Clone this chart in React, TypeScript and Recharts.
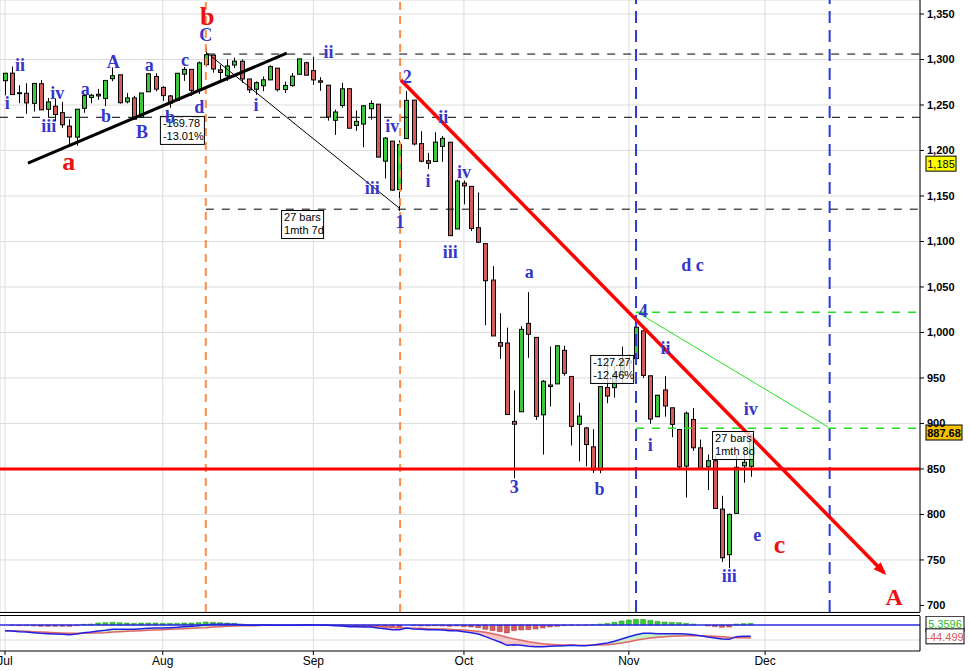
import React from "react";
import {
  ComposedChart,
  Bar,
  Line,
  Area,
  XAxis,
  YAxis,
  CartesianGrid,
  ReferenceLine,
  ReferenceDot,
  Cell,
} from "recharts";

// daily bars 1 Jul – 26 Nov 2008, index 0 = 1 Jul
const opens = [
  1276.7, 1285.0, 1263.5, 1262.9, 1251.8, 1273.4, 1245.3, 1248.7, 1241.6, 1226.8, 1214.7, 1246.3, 1258.2, 1261.8, 1257.1, 1278.9, 1283.2, 1253.5, 1257.8, 1236.4, 1264.5, 1281.4,
  1269.4, 1260.0, 1254.9, 1283.9, 1289.2, 1266.3, 1294.4, 1304.8, 1288.6, 1282.1, 1293.9, 1298.1, 1278.6, 1267.3, 1271.1, 1277.6, 1290.5, 1267.0, 1271.3, 1283.8, 1296.5,
  1287.8, 1276.6, 1271.8, 1233.2, 1249.5, 1267.9, 1227.5, 1229.0, 1245.9, 1250.9, 1188.3, 1210.3, 1157.1, 1213.1, 1255.4, 1207.6, 1188.8, 1187.9, 1204.5, 1209.1, 1113.8,
  1164.2, 1160.6, 1115.2, 1097.6, 1057.6, 988.9, 988.4, 902.3, 912.8, 1010.0, 994.6, 909.5, 942.3, 943.5, 980.4, 951.7, 899.1, 895.1, 874.3, 848.9, 939.5, 939.4, 953.1,
  968.7, 971.3, 1001.8, 952.4, 907.4, 936.8, 917.2, 893.4, 853.1, 904.4, 873.2, 852.3, 859.0, 805.9, 755.8, 801.2, 853.4, 852.9,
];
const highs = [
  1285.3, 1292.2, 1271.7, 1273.9, 1274.2, 1277.4, 1257.7, 1257.3, 1253.5, 1234.4, 1245.5, 1262.3, 1262.2, 1267.7, 1277.4, 1291.2, 1283.2, 1263.2, 1260.1, 1263.2, 1284.9, 1284.9,
  1270.5, 1261.0, 1284.9, 1291.7, 1289.2, 1297.9, 1313.2, 1304.8, 1294.0, 1300.1, 1302.1, 1300.2, 1278.6, 1276.0, 1281.4, 1293.6, 1290.5, 1275.7, 1285.1, 1300.7, 1297.6,
  1303.0, 1280.6, 1271.8, 1244.9, 1274.4, 1268.7, 1243.9, 1249.9, 1255.1, 1250.9, 1214.8, 1210.3, 1211.1, 1265.3, 1255.4, 1221.2, 1197.4, 1220.0, 1215.8, 1209.1, 1168.0,
  1167.0, 1160.6, 1153.8, 1097.6, 1072.9, 1021.1, 1005.3, 936.4, 1006.9, 1044.3, 994.6, 947.7, 984.6, 985.4, 985.4, 951.7, 922.8, 896.3, 893.8, 940.5, 970.0, 963.2, 984.4,
  975.5, 1007.5, 1001.8, 952.4, 931.5, 952.0, 917.2, 893.4, 913.0, 916.9, 882.3, 865.9, 864.6, 820.5, 801.2, 865.6, 868.9, 887.7,
];
const lows = [
  1260.7, 1261.5, 1252.0, 1240.3, 1242.8, 1244.6, 1236.8, 1232.0, 1225.0, 1205.0, 1205.3, 1241.5, 1251.8, 1255.7, 1248.8, 1276.1, 1251.5, 1251.8, 1234.4, 1236.4, 1264.5, 1265.0,
  1254.5, 1247.0, 1254.7, 1276.5, 1260.0, 1262.1, 1292.2, 1285.6, 1274.9, 1276.6, 1290.7, 1274.5, 1263.1, 1261.2, 1265.2, 1277.6, 1264.9, 1263.2, 1270.0, 1283.8, 1282.7,
  1272.2, 1265.6, 1232.8, 1217.2, 1247.1, 1224.5, 1221.6, 1203.6, 1233.8, 1192.7, 1169.3, 1155.9, 1133.5, 1213.1, 1205.6, 1187.1, 1179.8, 1187.9, 1187.5, 1106.4, 1113.8,
  1140.8, 1111.4, 1098.1, 1007.9, 996.2, 971.0, 909.2, 839.8, 912.8, 972.1, 904.0, 865.8, 918.7, 943.5, 952.5, 875.8, 858.4, 852.9, 845.6, 845.3, 922.3, 928.5, 944.6,
  958.6, 971.3, 949.9, 899.7, 906.9, 907.5, 884.9, 850.5, 818.7, 869.9, 849.0, 826.8, 806.2, 747.8, 741.0, 801.2, 835.0, 841.4,
];
const closes = [
  1284.9, 1261.5, 1262.9, 1252.3, 1273.7, 1244.7, 1253.4, 1239.5, 1228.3, 1214.9, 1245.4, 1260.3, 1260.7, 1260.0, 1277.0, 1282.2, 1252.5, 1257.8, 1234.4, 1263.2, 1284.3, 1267.4,
  1260.3, 1252.0, 1284.9, 1289.2, 1266.1, 1296.3, 1305.3, 1289.6, 1285.8, 1292.9, 1298.2, 1278.6, 1266.7, 1274.5, 1277.7, 1292.2, 1266.8, 1271.5, 1281.7, 1300.7, 1282.8,
  1277.6, 1275.0, 1236.8, 1242.3, 1267.8, 1224.5, 1232.0, 1249.1, 1251.7, 1192.7, 1213.6, 1156.4, 1206.5, 1255.1, 1207.1, 1188.2, 1185.9, 1209.2, 1213.3, 1106.4, 1166.4,
  1161.1, 1114.3, 1099.2, 1056.9, 996.2, 984.9, 909.9, 899.2, 1003.4, 998.0, 907.8, 946.4, 940.6, 985.4, 955.1, 896.8, 908.1, 876.8, 848.9, 940.5, 930.1, 954.1, 968.8,
  966.3, 1005.8, 952.8, 904.9, 931.0, 919.2, 899.0, 852.3, 911.3, 873.3, 850.8, 859.1, 806.6, 752.4, 800.0, 851.8, 857.4, 887.7,
];

// MACD panel
const macdLine = [
  -17, -18, -20, -21, -23, -25, -26, -27, -28, -29, -27,
  -23, -21, -18, -16, -13, -13, -13, -13, -11, -10,
  -9, -9, -8, -7, -5, -4, -2, 1, 2, 2,
  2, 2, 1, -1, -1, 0, 0, -1, -1, -1,
  0, 1, 0, 0, -1, -2, -3, -5, -5, -6,
  -6, -9, -11, -14, -14, -9, -12, -13, -14, -14,
  -15, -17, -17, -20, -23, -27, -35, -43, -51, -61,
  -59, -61, -64, -65, -65, -64, -63, -62, -61, -62,
  -62, -60, -57, -54, -49, -42, -35, -29, -25, -25,
  -26, -26, -26, -26, -27, -29, -32, -36, -39, -42,
  -43, -35, -34, -34,
];
const signalLine = [
  -17, -17, -18, -19, -20, -21, -22, -23, -24, -25, -25,
  -25, -24, -24, -23, -21, -20, -19, -18, -17, -16,
  -15, -14, -13, -12, -11, -10, -9, -8, -6, -5,
  -4, -3, -2, -2, -2, -1, -1, -1, -1, -1,
  -1, 0, 0, 0, 0, -1, -1, -2, -2, -3,
  -3, -4, -5, -7, -8, -9, -10, -10, -11, -12,
  -12, -13, -14, -15, -17, -19, -22, -26, -31, -37,
  -42, -46, -50, -53, -56, -58, -59, -60, -60, -61,
  -61, -61, -60, -59, -57, -54, -50, -46, -42, -39,
  -37, -35, -34, -33, -32, -32, -32, -33, -34, -35,
  -37, -38, -38, -39,
];
const histogram = [
  0, -1, -2, -2, -3, -4, -4, -4, -4, -4, -2,
  2, 3, 6, 7, 8, 7, 6, 5, 6, 6,
  6, 5, 5, 5, 6, 6, 7, 9, 8, 7,
  6, 5, 3, 1, 1, 1, 1, 0, 0, 0,
  1, 1, 0, 0, -1, -1, -2, -3, -3, -3,
  -3, -5, -6, -7, -6, 0, -2, -3, -3, -2,
  -3, -4, -3, -5, -6, -8, -13, -17, -20, -24,
  -17, -15, -14, -12, -9, -6, -4, -2, -1, -1,
  -1, 1, 3, 5, 8, 12, 15, 17, 17, 14,
  11, 9, 8, 7, 5, 3, 0, -3, -5, -7,
  -6, 3, 4, 5,
];

const monthStarts = [0, 22, 43, 64, 87, 106];
const monthNames = ["Jul", "Aug", "Sep", "Oct", "Nov", "Dec"];
const priceTicks = [700, 750, 800, 850, 900, 950, 1000, 1050, 1100, 1150, 1200, 1250, 1300, 1350];

const X_DOMAIN: [number, number] = [-0.7, 127.6];
const Y_DOMAIN: [number, number] = [692.8, 1365.4];

const GREEN = "#3cc83c";
const RED = "#d65c5c";
const WAVE_BLUE = "#3535cc";
const WAVE_RED = "#ee1111";
const SANS = "'Liberation Sans', Arial, sans-serif";
const SERIF = "'Liberation Serif', 'Times New Roman', serif";

// wave count labels, placed at (bar index, price)
const blueLabels = [
  { t: "i", i: 0.3, v: 1252 }, { t: "ii", i: 2.1, v: 1294 }, { t: "iii", i: 6.1, v: 1227 },
  { t: "iv", i: 7.3, v: 1263 }, { t: "a", i: 11.2, v: 1268 }, { t: "b", i: 14.1, v: 1238 },
  { t: "A", i: 15.1, v: 1297 }, { t: "B", i: 19.1, v: 1220 }, { t: "a", i: 20.1, v: 1294 },
  { t: "b", i: 23.0, v: 1237 }, { t: "c", i: 25.1, v: 1299 }, { t: "d", i: 27.1, v: 1248 },
  { t: "C", i: 28.0, v: 1327 }, { t: "i", i: 35.0, v: 1250 }, { t: "ii", i: 45.1, v: 1308 },
  { t: "iii", i: 51.2, v: 1159 }, { t: "iv", i: 54.0, v: 1227 }, { t: "1", i: 55.1, v: 1121 },
  { t: "2", i: 56.1, v: 1281 }, { t: "i", i: 59.0, v: 1166 }, { t: "ii", i: 61.1, v: 1237 },
  { t: "iii", i: 62.1, v: 1088 }, { t: "iv", i: 64.0, v: 1176 }, { t: "3", i: 71.0, v: 830 },
  { t: "a", i: 73.1, v: 1066 }, { t: "b", i: 82.9, v: 828 }, { t: "4", i: 89.0, v: 1024 },
  { t: "i", i: 90.0, v: 876 }, { t: "ii", i: 92.1, v: 983 }, { t: "d", i: 95.0, v: 1074 },
  { t: "c", i: 96.9, v: 1074 }, { t: "iii", i: 101.0, v: 732 }, { t: "iv", i: 104.0, v: 916 },
  { t: "e", i: 104.9, v: 777 },
];
const redLabels = [
  { t: "b", i: 28.2, v: 1347, s: 26 }, { t: "a", i: 8.9, v: 1188, s: 26 },
  { t: "c", i: 108.0, v: 767, s: 26 }, { t: "A", i: 124.0, v: 709, s: 24 },
];
const noteBoxes = [
  { lines: ["-169.78", "-13.01%"], i: 21.6, v: 1238, w: 44 },
  { lines: ["27 bars", "1mth 7d"], i: 38.5, v: 1134.6, w: 42 },
  { lines: ["-127.27", "-12.46%"], i: 81.6, v: 975.3, w: 43 },
  { lines: ["27 bars", "1mth 8d"], i: 98.6, v: 891.7, w: 41 },
];

const priceData = closes.map((close, i) => ({ i, open: opens[i], high: highs[i], low: lows[i], close }));
const macdData = macdLine.map((macd, i) => ({ i, macd, signal: signalLine[i], hist: histogram[i] }));

function Candle(props: any) {
  const { x, y, width, height, payload } = props;
  if (!payload || !isFinite(y)) return null;
  const { open, high, low, close } = payload;
  const span = high - low || 1;
  const toY = (p: number) => y + ((high - p) / span) * height;
  const top = toY(Math.max(open, close));
  const bot = toY(Math.min(open, close));
  const cx = Math.round(x + width / 2) + 0.5;
  return (
    <g>
      <line x1={cx} x2={cx} y1={y} y2={y + height} stroke="#000" strokeWidth={1} />
      <rect
        x={cx - 2}
        y={top}
        width={4}
        height={Math.max(1, bot - top)}
        fill={close >= open ? GREEN : RED}
        stroke="#000"
        strokeWidth={1}
      />
    </g>
  );
}

function sideTag(text: string, fill: string, color: string, w: number, bold: boolean, dy = 0) {
  return (props: any) => {
    const vb = props.viewBox || {};
    const x = vb.x + vb.width + 6;
    const y = vb.y + dy;
    return (
      <g>
        <rect x={x} y={y - 8} width={w} height={15} fill={fill} stroke="#000" strokeWidth={1} />
        <text x={x + w / 2} y={y} textAnchor="middle" dominantBaseline="central" fontSize={11}
          fontFamily={SANS} fontWeight={bold ? "bold" : "normal"} fill={color}>
          {text}
        </text>
      </g>
    );
  };
}

const belowRange = (d: any) => (d.macd < d.signal ? [d.macd, d.signal] : [d.signal, d.signal]);
const aboveRange = (d: any) => (d.macd > d.signal ? [d.signal, d.macd] : [d.signal, d.signal]);

export default function App() {
  return (
    <div style={{ position: "relative", width: 970, height: 671, background: "#fff", overflow: "hidden" }}>
      <style>{"body{margin:0}"}</style>

      <div style={{ position: "absolute", left: 0, top: 0 }}>
        <ComposedChart width={970} height={612} data={priceData} margin={{ top: 0, right: 0, bottom: 0, left: 0 }}>
          <CartesianGrid stroke="#dcdcdc" strokeWidth={1} />
          <XAxis dataKey="i" type="number" domain={X_DOMAIN} ticks={monthStarts} hide allowDataOverflow />
          <YAxis
            orientation="right"
            type="number"
            domain={Y_DOMAIN}
            ticks={priceTicks}
            width={50}
            allowDataOverflow
            axisLine={{ stroke: "#000" }}
            tickLine={{ stroke: "#000" }}
            tickSize={4}
            tickMargin={3}
            tick={{ fill: "#000", fontSize: 11, fontWeight: "bold", fontFamily: SANS }}
            tickFormatter={(v: number) => v.toLocaleString("en-US")}
          />

          <Bar dataKey={(d: any) => [d.low, d.high]} barSize={5} shape={<Candle />} isAnimationActive={false} />

          <ReferenceLine segment={[{ x: 28.2, y: 1306 }, { x: 127.6, y: 1306 }]} stroke="#000" strokeDasharray="8 8" />
          <ReferenceLine y={1236.5} stroke="#000" strokeDasharray="8 8" />
          <ReferenceLine segment={[{ x: 28, y: 1135.5 }, { x: 127.6, y: 1135.5 }]} stroke="#000" strokeDasharray="8 8" />
          <ReferenceLine segment={[{ x: 88, y: 1022.3 }, { x: 127.6, y: 1022.3 }]} stroke="#22e022" strokeWidth={1.5} strokeDasharray="8 8" />
          <ReferenceLine segment={[{ x: 88, y: 894.7 }, { x: 127.6, y: 894.7 }]} stroke="#22e022" strokeWidth={1.5} strokeDasharray="8 8" />

          <ReferenceLine x={28} stroke="#ff8c4a" strokeWidth={2} strokeDasharray="8 6" />
          <ReferenceLine x={55.1} stroke="#ff8c4a" strokeWidth={2} strokeDasharray="8 6" />
          <ReferenceLine x={88} stroke="#2a3bd8" strokeWidth={2} strokeDasharray="12 7" />
          <ReferenceLine x={115} stroke="#2a3bd8" strokeWidth={2} strokeDasharray="12 7" />

          <ReferenceLine y={850} stroke="#ff0000" strokeWidth={3} />
          <ReferenceLine segment={[{ x: 3.2, y: 1186 }, { x: 39.3, y: 1307 }]} stroke="#000" strokeWidth={3} />
          <ReferenceLine segment={[{ x: 28.2, y: 1307 }, { x: 55.1, y: 1136 }]} stroke="#000" strokeWidth={1} />
          <ReferenceLine segment={[{ x: 88.1, y: 1022.5 }, { x: 114.8, y: 896 }]} stroke="#22e022" strokeWidth={1} />
          <ReferenceLine segment={[{ x: 55.2, y: 1277.5 }, { x: 122.6, y: 736 }]} stroke="#ff0000" strokeWidth={3.5} />
          <ReferenceDot
            x={122.9}
            y={733.5}
            r={0}
            ifOverflow="visible"
            shape={(p: any) => (
              <polygon points="0,0 -13,-5 -13,5" transform={`translate(${p.cx},${p.cy}) rotate(45.6)`} fill="#ff0000" />
            )}
          />

          <ReferenceLine y={1185} stroke="none" label={sideTag("1,185", "#ffff00", "#000", 30, false)} />
          <ReferenceLine y={889.5} stroke="none" label={sideTag("887.68", "#f5c000", "#000", 36, true)} />

          {noteBoxes.map((b, k) => (
            <ReferenceDot
              key={"n" + k}
              x={b.i}
              y={b.v}
              r={0}
              ifOverflow="visible"
              shape={(p: any) => (
                <g>
                  <rect x={p.cx + 0.5} y={p.cy + 0.5} width={b.w} height={28} fill="#fff" fillOpacity={0.75} stroke="#000" strokeWidth={1} />
                  {b.lines.map((ln, j) => (
                    <text key={j} x={p.cx + 3} y={p.cy + 11 + j * 13} fontSize={11} fontFamily={SANS} fill="#000">
                      {ln}
                    </text>
                  ))}
                </g>
              )}
            />
          ))}

          {blueLabels.map((l, k) => (
            <ReferenceDot
              key={"b" + k}
              x={l.i}
              y={l.v}
              r={0}
              ifOverflow="visible"
              shape={(p: any) => (
                <text x={p.cx} y={p.cy} textAnchor="middle" dominantBaseline="central" fontSize={18}
                  fontWeight="bold" fontFamily={SERIF} fill={WAVE_BLUE}>
                  {l.t}
                </text>
              )}
            />
          ))}
          {redLabels.map((l, k) => (
            <ReferenceDot
              key={"r" + k}
              x={l.i}
              y={l.v}
              r={0}
              ifOverflow="visible"
              shape={(p: any) => (
                <text x={p.cx} y={p.cy} textAnchor="middle" dominantBaseline="central" fontSize={l.s}
                  fontWeight="bold" fontFamily={SERIF} fill={WAVE_RED}>
                  {l.t}
                </text>
              )}
            />
          ))}
        </ComposedChart>
      </div>

      <div style={{ position: "absolute", left: 0, top: 612, width: 920, height: 1, background: "#000" }} />
      <div style={{ position: "absolute", left: 0, top: 615, width: 920, height: 1, background: "#000" }} />

      <div style={{ position: "absolute", left: 0, top: 616 }}>
        <ComposedChart width={970} height={55} data={macdData} margin={{ top: 0, right: 0, bottom: 0, left: 0 }}>
          <CartesianGrid horizontal={false} stroke="#dcdcdc" />
          <XAxis
            dataKey="i"
            type="number"
            domain={X_DOMAIN}
            ticks={monthStarts}
            interval={0}
            allowDataOverflow
            height={20}
            axisLine={{ stroke: "#000" }}
            tickLine={{ stroke: "#000" }}
            tickSize={4}
            tickMargin={1}
            tick={{ fill: "#000", fontSize: 12, fontFamily: SANS }}
            tickFormatter={(v: number) => monthNames[monthStarts.indexOf(v)]}
          />
          <YAxis orientation="right" type="number" domain={[-78, 27]} width={50} allowDataOverflow tick={false} tickLine={false} axisLine={{ stroke: "#000" }} />
          <ReferenceLine y={-45} stroke="#dcdcdc" />
          <Area dataKey={belowRange} type="linear" stroke="none" fill="#f6c4c4" fillOpacity={1} isAnimationActive={false} />
          <Area dataKey={aboveRange} type="linear" stroke="none" fill="#c6f0c6" fillOpacity={1} isAnimationActive={false} />
          <Bar dataKey="hist" barSize={5} isAnimationActive={false}>
            {macdData.map((d, k) => (
              <Cell key={k} fill={d.hist >= 0 ? "#33cc33" : "#d65c5c"} stroke={d.hist >= 0 ? "#1f8f1f" : "#a33"} strokeWidth={0.5} />
            ))}
          </Bar>
          <Line dataKey="signal" type="linear" stroke="#e06666" strokeWidth={1.5} dot={false} isAnimationActive={false} />
          <Line dataKey="macd" type="linear" stroke="#2020e0" strokeWidth={1.5} dot={false} isAnimationActive={false} />
          <ReferenceLine y={0} stroke="#2828e0" strokeWidth={1.5} />
          <ReferenceLine y={5.36} stroke="none" label={sideTag("5.3596", "#fff", "#22bb22", 38, false, 1)} />
          <ReferenceLine y={-44.5} stroke="none" label={sideTag("-44.499", "#fff", "#e05555", 38, false, -3)} />
        </ComposedChart>
      </div>
    </div>
  );
}
